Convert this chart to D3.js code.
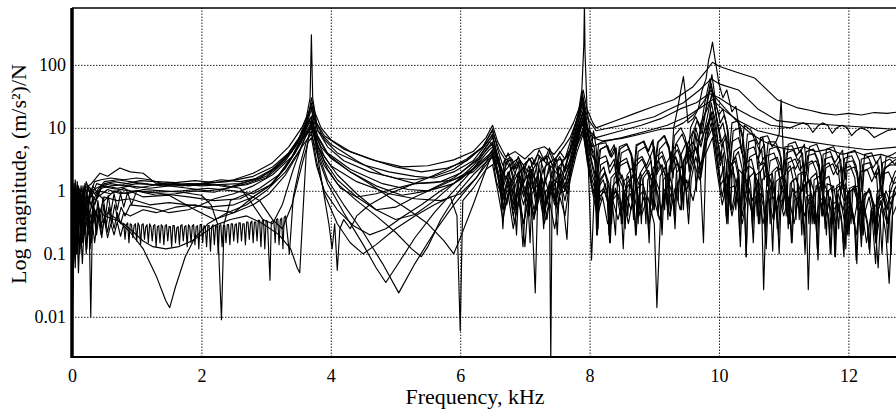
<!DOCTYPE html>
<html>
<head>
<meta charset="utf-8">
<script src="https://cdn.jsdelivr.net/npm/d3@7"></script>
<style>
  body { margin: 0; background: #fff; }
  svg { display: block; }
</style>
</head>
<body>
<div id="chart"></div>
<script>
// frequency in kHz, magnitude in (m/s^2)/N
var xTicks = [0, 2, 4, 6, 8, 10, 12];
var yTicks = [0.01, 0.1, 1, 10, 100];
var yTickLabels = ['0.01', '0.1', '1', '10', '100'];

var frf01 = [[0,0.002],[0.03,0.6],[0.06,0.15],[0.1,0.9],[0.14,0.35],[0.2,1.1],[0.3,1.3],[0.43,1.9],[0.55,1.7],[0.74,2.3],[0.9,2.0],[1.1,1.9],[1.3,1.3],[1.6,1.25],[2.0,1.3],[2.4,1.4],[2.8,1.7],[3.1,2.4],[3.35,4],[3.55,8],[3.66,16],[3.7,30],[3.75,18],[3.85,10],[4.0,6.5],[4.3,4.2],[4.7,3.0],[5.1,2.4],[5.5,2.5],[5.9,3.1],[6.2,4.2],[6.4,7],[6.5,11],[6.58,6],[6.7,3.5],[6.85,4.2],[7.0,3.2],[7.15,4.5],[7.3,5],[7.45,3.8],[7.6,6],[7.75,12],[7.85,22],[7.9,40],[7.96,20],[8.05,12],[8.1,10],[8.4,13],[8.7,17],[9.0,22],[9.3,28],[9.6,45],[9.8,80],[9.9,110],[10.0,95],[10.25,78],[10.55,62],[10.9,28],[11.2,21],[11.4,19],[11.6,17],[11.8,16],[12.0,17],[12.2,16],[12.4,17.5],[12.6,17],[12.8,18]];

var frf02 = [[0,0.05],[0.04,0.5],[0.08,0.2],[0.12,1.0],[0.18,0.4],[0.25,1.2],[0.35,0.9],[0.5,1.4],[0.7,1.5],[1.0,1.35],[1.4,1.2],[1.8,1.3],[2.2,1.25],[2.6,1.3],[2.9,1.6],[3.2,2.6],[3.45,5],[3.62,12],[3.7,25],[3.78,12],[3.9,7.5],[4.2,4.6],[4.6,3.2],[5.0,2.4],[5.4,2.0],[5.8,2.3],[6.1,3.0],[6.35,5],[6.5,9],[6.6,4.5],[6.75,2.5],[6.9,3.3],[7.05,2.0],[7.2,3.8],[7.35,2.6],[7.5,3.5],[7.7,7],[7.85,18],[7.9,30],[7.97,14],[8.1,9],[8.5,11],[9.0,15],[9.2,19],[9.45,25],[9.7,40],[9.88,60],[10.0,50],[10.3,40],[10.6,20],[10.9,13],[11.2,12],[11.5,11.5],[11.8,11],[12.1,10.5],[12.4,10],[12.8,9.3]];

var frf03 = [[0,0.1],[0.05,1.2],[0.09,0.3],[0.13,0.8],[0.2,0.5],[0.3,1.0],[0.45,1.2],[0.6,1.1],[0.9,1.0],[1.3,0.95],[1.7,1.0],[2.1,1.1],[2.5,1.0],[2.8,0.9],[3.1,1.3],[3.4,3.5],[3.6,9],[3.7,20],[3.8,9],[4.0,5.5],[4.4,3.0],[4.8,1.8],[5.3,1.3],[5.7,1.4],[6.0,1.9],[6.3,3.5],[6.5,7],[6.6,3],[6.7,1.5],[6.8,2.4],[6.95,1.2],[7.1,2.2],[7.25,0.9],[7.4,2.5],[7.55,1.6],[7.7,4],[7.85,15],[7.9,22],[7.95,10],[8.1,7],[8.4,8.5],[8.8,11],[9.1,14],[9.4,20],[9.65,25],[9.85,35],[10.0,30],[10.2,22],[10.5,15],[10.8,11],[11.1,10],[11.2,11],[11.3,12],[11.38,11],[11.45,8.5],[11.52,10.5],[11.6,12],[11.68,11],[11.75,8.2],[11.82,10],[11.9,11],[11.98,10],[12.05,7.5],[12.12,9],[12.2,10],[12.3,9],[12.4,7],[12.5,8],[12.6,9],[12.7,9.5],[12.8,10]];

var frf04 = [[0,0.03],[0.04,0.8],[0.08,0.15],[0.12,0.6],[0.17,0.25],[0.22,0.9],[0.3,0.6],[0.4,1.0],[0.6,0.9],[0.8,1.1],[1.1,0.8],[1.5,0.85],[1.9,0.5],[2.2,0.35],[2.5,0.45],[2.8,0.8],[3.05,1.2],[3.3,2.3],[3.55,6],[3.68,14],[3.72,16],[3.8,7],[3.95,3.8],[4.3,2.0],[4.7,1.2],[5.1,0.85],[5.5,1.0],[5.9,1.6],[6.25,3],[6.45,6],[6.52,5],[6.65,2],[6.8,1.2],[6.9,2.0],[7.05,0.8],[7.2,1.8],[7.3,0.6],[7.45,1.5],[7.6,1.1],[7.75,3],[7.88,12],[7.93,9],[8.05,5],[8.2,6],[8.5,7],[8.9,9],[9.2,11],[9.5,15],[9.75,22],[9.9,28],[10.05,20],[10.3,13],[10.6,9],[11.0,7.2],[11.4,6],[11.8,5.2],[12.3,4.5],[12.8,5]];

var frf05 = [[0,0.2],[0.03,1.0],[0.07,0.1],[0.1,0.7],[0.15,0.2],[0.19,0.9],[0.25,0.3],[0.32,0.8],[0.36,0.3],[0.4,0.7],[0.44,0.35],[0.48,0.8],[0.52,0.4],[0.56,0.85],[0.6,0.45],[0.65,0.9],[0.7,0.5],[0.75,0.9],[0.8,0.55],[0.86,0.95],[0.92,0.6],[1.0,1.0],[1.4,0.9],[1.8,0.8],[2.2,0.7],[2.6,0.75],[2.9,1.1],[3.2,1.8],[3.45,4],[3.62,10],[3.7,13],[3.78,8],[3.95,4],[4.3,2.2],[4.8,1.3],[5.2,1.05],[5.5,1.0],[5.9,1.3],[6.2,2.2],[6.4,4.5],[6.5,6],[6.58,3],[6.65,1.5],[6.72,0.6],[6.8,1.6],[6.88,0.5],[6.95,1.4],[7.02,0.7],[7.1,1.8],[7.18,0.5],[7.26,1.2],[7.34,0.35],[7.42,1.4],[7.5,0.8],[7.6,1.9],[7.7,3],[7.82,8],[7.9,15],[7.97,6],[8.05,2.5],[8.1,1.6],[8.13,0.5],[8.16,1.5],[8.24,2.0],[8.3,1.3],[8.33,0.35],[8.36,1.2],[8.45,1.6],[8.52,1.1],[8.55,0.25],[8.58,1.3],[8.67,1.8],[8.73,1.4],[8.76,0.4],[8.79,1.6],[8.88,2.2],[8.95,1.5],[8.98,0.5],[9.01,1.9],[9.1,2.6],[9.17,1.8],[9.2,0.6],[9.23,2.4],[9.33,3.5],[9.4,2.2],[9.43,0.8],[9.46,3.0],[9.55,4.5],[9.62,3],[9.65,1.0],[9.68,5],[9.78,9],[9.9,18],[9.98,6],[10.05,3],[10.09,0.8],[10.13,3.2],[10.22,2.4],[10.26,0.5],[10.3,2.2],[10.38,1.8],[10.42,0.09],[10.46,1.6],[10.55,2.0],[10.6,1.3],[10.63,0.3],[10.67,1.5],[10.76,1.9],[10.82,1.2],[10.85,0.35],[10.88,1.4],[10.97,1.7],[11.04,1.1],[11.07,0.25],[11.1,1.3],[11.19,1.6],[11.26,1.0],[11.29,0.3],[11.32,1.2],[11.41,1.5],[11.48,0.9],[11.51,0.2],[11.54,1.1],[11.63,1.3],[11.7,0.8],[11.73,0.25],[11.76,1.0],[11.86,1.2],[11.93,0.7],[11.96,0.12],[11.99,0.9],[12.08,1.1],[12.16,0.6],[12.19,0.2],[12.22,0.8],[12.32,1.0],[12.4,0.6],[12.43,0.15],[12.46,0.7],[12.56,0.9],[12.63,0.5],[12.66,0.1],[12.69,0.8],[12.8,1.2]];

var frf06 = [[0,0.01],[0.02,0.4],[0.05,1.3],[0.08,0.2],[0.11,1.0],[0.14,0.3],[0.18,0.7],[0.23,0.4],[0.28,1.1],[0.35,0.6],[0.45,1.1],[0.6,1.2],[0.8,1.25],[1.0,1.1],[1.3,1.25],[1.6,1.3],[2.0,1.2],[2.3,1.25],[2.6,1.1],[2.75,0.7],[2.95,0.35],[3.1,0.3],[3.25,0.6],[3.42,2.2],[3.6,7],[3.7,10],[3.8,5],[4.0,2.5],[4.4,1.4],[4.9,0.9],[5.3,0.75],[5.7,0.7],[6.0,0.9],[6.25,1.6],[6.45,3.5],[6.5,4],[6.56,2.6],[6.6,3.4],[6.64,1.2],[6.68,3.0],[6.78,3.4],[6.84,2.2],[6.9,3.0],[6.94,0.9],[6.98,2.6],[7.08,3.2],[7.14,2.0],[7.18,0.7],[7.22,2.8],[7.32,3.6],[7.38,2.4],[7.42,1.0],[7.46,2.9],[7.56,3.2],[7.62,2.2],[7.66,3.5],[7.76,6],[7.86,14],[7.91,20],[7.98,8],[8.06,3.5],[8.11,2.4],[8.14,0.9],[8.17,2.6],[8.27,3.0],[8.31,1.9],[8.39,2.8],[8.44,1.2],[8.47,2.5],[8.58,2.9],[8.63,2.0],[8.66,0.7],[8.7,2.4],[8.81,3.2],[8.88,2.2],[8.95,3.0],[8.99,1.1],[9.03,2.8],[9.12,3.6],[9.18,2.4],[9.22,1.0],[9.26,3.2],[9.36,4.5],[9.42,3.0],[9.46,1.2],[9.5,4.5],[9.6,6],[9.66,4],[9.72,12],[9.82,20],[9.9,35],[9.96,15],[10.04,6],[10.1,8],[10.16,4.5],[10.19,1.6],[10.23,4.2],[10.33,5],[10.39,3.2],[10.43,1.0],[10.47,3.4],[10.57,3.9],[10.64,2.6],[10.71,3.6],[10.75,1.2],[10.79,3.0],[10.9,3.4],[10.97,2.2],[11.03,0.8],[11.07,2.8],[11.18,3.2],[11.25,2.1],[11.31,2.8],[11.35,0.9],[11.39,2.6],[11.5,3.0],[11.57,1.9],[11.61,0.6],[11.65,2.3],[11.76,2.7],[11.83,1.8],[11.9,2.4],[11.94,0.7],[11.98,2.1],[12.09,2.4],[12.16,1.5],[12.2,0.5],[12.24,2.0],[12.35,2.4],[12.42,1.6],[12.48,2.2],[12.52,0.8],[12.56,2.2],[12.66,2.8],[12.8,3.5]];

var frf07 = [[0,0.005],[0.02,0.3],[0.05,0.08],[0.08,0.6],[0.12,0.1],[0.16,0.5],[0.2,0.2],[0.26,0.7],[0.29,0.01],[0.32,0.6],[0.4,0.35],[0.5,0.8],[0.7,0.7],[0.9,0.75],[1.2,0.6],[1.5,0.65],[1.8,0.6],[2.1,0.55],[2.5,0.6],[2.8,0.8],[3.1,1.3],[3.35,2.8],[3.58,7],[3.7,11],[3.8,4],[3.95,1.5],[4.2,0.6],[4.5,0.22],[4.8,0.07],[5.05,0.024],[5.3,0.07],[5.6,0.22],[5.9,0.6],[6.2,1.4],[6.45,3],[6.5,3.5],[6.6,1.5],[6.68,0.5],[6.76,1.1],[6.84,0.3],[6.92,0.9],[7.0,0.13],[7.06,0.8],[7.14,0.4],[7.22,1.2],[7.3,0.5],[7.38,1.0],[7.4,0.002],[7.42,0.9],[7.5,0.6],[7.6,1.5],[7.72,3],[7.85,9],[7.9,14],[7.97,5],[8.03,0.08],[8.08,1.5],[8.16,0.7],[8.24,1.3],[8.32,0.5],[8.4,1.1],[8.48,0.4],[8.56,0.9],[8.64,0.5],[8.72,1.2],[8.8,0.4],[8.9,0.8],[9.0,0.3],[9.04,0.014],[9.1,0.5],[9.2,1.2],[9.3,0.6],[9.4,1.8],[9.5,1.0],[9.6,3],[9.7,1.5],[9.8,6],[9.9,10],[9.97,3],[10.05,0.8],[10.12,2],[10.2,0.5],[10.28,1.6],[10.36,0.4],[10.44,1.3],[10.52,0.7],[10.6,1.5],[10.66,0.5],[10.69,0.027],[10.73,0.6],[10.82,1.4],[10.9,0.5],[10.98,1.2],[11.06,0.45],[11.14,1.1],[11.22,0.6],[11.3,1.3],[11.35,0.5],[11.38,0.027],[11.42,0.6],[11.52,1.2],[11.6,0.4],[11.68,1.0],[11.76,0.3],[11.84,0.9],[11.92,0.5],[12.0,1.0],[12.08,0.3],[12.16,0.9],[12.24,0.4],[12.32,0.8],[12.4,0.3],[12.5,0.7],[12.58,0.2],[12.63,0.034],[12.68,0.4],[12.8,0.8]];

var frf08 = [[0,0.02],[0.03,0.7],[0.06,0.2],[0.1,0.5],[0.15,0.15],[0.2,0.45],[0.26,0.2],[0.35,0.5],[0.45,0.3],[0.55,0.45],[0.7,0.35],[0.9,0.22],[1.1,0.12],[1.3,0.045],[1.45,0.018],[1.51,0.014],[1.6,0.03],[1.75,0.09],[1.9,0.18],[2.1,0.3],[2.4,0.45],[2.7,0.6],[3.0,1.0],[3.3,2.0],[3.55,5],[3.7,8],[3.8,3.5],[3.95,1.3],[4.2,0.45],[4.5,0.14],[4.7,0.06],[4.85,0.035],[5.0,0.06],[5.3,0.18],[5.6,0.45],[5.9,1.0],[6.2,2.2],[6.45,4.5],[6.5,5],[6.6,2.5],[6.68,0.9],[6.76,2.0],[6.84,0.6],[6.92,1.7],[7.0,0.9],[7.08,2.2],[7.16,0.024],[7.2,1.0],[7.28,2.2],[7.36,1.0],[7.46,2.8],[7.56,1.2],[7.65,0.17],[7.7,2.5],[7.82,7],[7.9,12],[7.96,4],[8.03,1.6],[8.09,1.0],[8.12,0.3],[8.15,1.2],[8.21,1.5],[8.27,0.9],[8.3,0.2],[8.33,1.1],[8.4,0.2],[8.43,1.3],[8.5,1.8],[8.56,1.1],[8.59,0.4],[8.62,1.4],[8.7,1.9],[8.77,1.2],[8.8,0.3],[8.83,1.6],[8.91,2.1],[8.97,1.4],[9.0,0.5],[9.03,1.8],[9.12,2.6],[9.18,1.6],[9.21,0.35],[9.24,2.2],[9.33,3.4],[9.39,2.0],[9.42,0.5],[9.45,3.0],[9.54,5],[9.6,3],[9.64,8],[9.7,3],[9.76,0.15],[9.8,5],[9.88,25],[9.95,12],[10.02,3],[10.06,6],[10.12,2.5],[10.15,0.6],[10.18,2.6],[10.26,3.4],[10.31,1.8],[10.34,0.4],[10.38,2.0],[10.42,0.09],[10.46,2.5],[10.53,2.2],[10.58,1.2],[10.61,0.3],[10.64,2.0],[10.72,2.8],[10.78,1.6],[10.83,0.11],[10.87,2.0],[10.95,2.3],[11.01,1.3],[11.04,0.4],[11.07,2.0],[11.15,2.4],[11.21,1.4],[11.24,0.35],[11.27,1.8],[11.35,2.0],[11.41,1.1],[11.44,0.3],[11.47,1.5],[11.55,1.7],[11.61,0.9],[11.64,0.25],[11.67,1.3],[11.75,1.2],[11.8,0.09],[11.84,1.0],[11.92,1.3],[11.98,0.7],[12.01,0.2],[12.04,1.0],[12.12,1.1],[12.18,0.6],[12.21,0.2],[12.24,0.9],[12.33,1.0],[12.39,0.5],[12.42,0.15],[12.45,0.8],[12.54,0.9],[12.6,0.5],[12.64,0.9],[12.72,1.6],[12.8,1.9]];

var frf09 = [[0,0.03],[0.02,0.25],[0.05,0.06],[0.07,0.4],[0.1,0.05],[0.13,0.35],[0.16,0.07],[0.19,0.3],[0.22,0.1],[0.25,0.4],[0.28,0.12],[0.31,0.35],[0.35,0.15],[0.4,0.4],[0.45,0.2],[0.5,0.35],[0.55,0.18],[0.6,0.3],[0.65,0.2],[0.7,0.32],[0.75,0.19],
  [0.8,0.3],[0.82,0.17],[0.84,0.29],[0.86,0.31],[0.88,0.15],[0.9,0.3],[0.92,0.29],[0.94,0.18],[0.96,0.28],[0.98,0.3],[1.0,0.16],[1.02,0.31],[1.04,0.28],[1.06,0.14],[1.08,0.29],[1.1,0.3],[1.12,0.17],[1.14,0.27],[1.16,0.29],[1.18,0.15],[1.2,0.3],[1.22,0.27],[1.24,0.16],[1.26,0.28],[1.28,0.29],[1.3,0.13],[1.32,0.27],[1.34,0.28],[1.36,0.15],[1.38,0.29],[1.4,0.27],[1.42,0.14],[1.44,0.28],[1.46,0.29],[1.48,0.16],[1.5,0.27],[1.52,0.27],[1.54,0.13],[1.56,0.28],[1.58,0.28],[1.6,0.15],[1.62,0.26],[1.64,0.27],[1.66,0.14],[1.68,0.28],[1.7,0.29],[1.72,0.16],[1.74,0.27],[1.76,0.28],[1.78,0.13],[1.8,0.29],[1.82,0.27],[1.84,0.15],[1.86,0.28],[1.88,0.29],[1.9,0.14],[1.92,0.27],[1.94,0.28],[1.96,0.12],[1.98,0.29],[2.0,0.29],[2.02,0.15],[2.04,0.28],[2.06,0.27],[2.08,0.13],[2.1,0.28],[2.12,0.28],[2.14,0.11],[2.16,0.27],[2.18,0.29],[2.2,0.14],[2.22,0.28],[2.24,0.27],[2.26,0.1],[2.28,0.28],[2.3,0.29],[2.32,0.13],[2.34,0.28],[2.36,0.28],[2.38,0.15],[2.4,0.29],[2.42,0.29],[2.44,0.14],[2.46,0.3],[2.48,0.3],[2.5,0.16],[2.52,0.29],[2.54,0.3],[2.56,0.15],[2.58,0.31],[2.6,0.31],[2.62,0.16],[2.64,0.3],[2.66,0.3],[2.68,0.14],[2.7,0.32],[2.72,0.32],[2.74,0.17],[2.76,0.31],[2.78,0.33],[2.8,0.15],[2.82,0.32],[2.84,0.32],[2.86,0.16],[2.88,0.34],[2.9,0.34],[2.92,0.13],[2.94,0.33],[2.96,0.35],[2.98,0.12],[3.0,0.34],[3.02,0.33],[3.06,0.038],[3.08,0.32],[3.12,0.34],[3.14,0.15],[3.16,0.35],[3.18,0.36],[3.2,0.14],[3.22,0.35],[3.24,0.37],[3.26,0.12],[3.28,0.38],[3.3,0.4],
  [3.36,0.1],[3.42,0.8],[3.52,2.5],[3.62,6],[3.7,9],[3.78,3],[3.9,0.9],[4.1,0.3],[4.3,0.15],[4.5,0.1],[4.7,0.14],[5.0,0.25],[5.3,0.4],[5.6,0.6],[5.85,0.8],[5.95,0.4],[6.0,0.006],[6.04,0.7],[6.2,1.1],[6.4,2.2],[6.5,2.6],[6.58,1.0],[6.66,0.35],[6.74,0.9],[6.82,0.25],[6.9,0.7],[6.98,0.3],[7.06,0.8],[7.14,0.35],[7.22,0.9],[7.3,0.3],[7.38,0.7],[7.46,0.25],[7.54,0.8],[7.62,0.4],[7.7,1.5],[7.8,4],[7.9,8],[7.97,3],[8.05,0.9],[8.12,0.4],[8.2,0.8],[8.28,0.3],[8.36,0.7],[8.44,0.35],[8.52,0.8],[8.6,0.3],[8.68,0.9],[8.76,0.4],[8.84,0.8],[8.92,0.3],[9.0,0.7],[9.08,0.35],[9.16,0.9],[9.24,0.4],[9.32,1.1],[9.4,0.5],[9.5,1.5],[9.6,0.7],[9.7,2.5],[9.8,4],[9.9,7],[9.97,2],[10.05,0.6],[10.12,1.3],[10.2,0.4],[10.28,1.0],[10.36,0.3],[10.44,0.9],[10.52,0.4],[10.6,1.0],[10.68,0.3],[10.76,0.8],[10.84,0.35],[10.92,0.9],[11.0,0.4],[11.08,0.8],[11.16,0.3],[11.24,0.9],[11.32,0.4],[11.4,0.8],[11.48,0.3],[11.56,0.7],[11.64,0.35],[11.72,0.8],[11.8,0.3],[11.88,0.7],[11.96,0.25],[12.04,0.6],[12.12,0.2],[12.2,0.6],[12.28,0.15],[12.36,0.5],[12.44,0.2],[12.52,0.6],[12.6,0.3],[12.7,0.8],[12.8,1.2]];

var frf10 = [[0,0.004],[0.02,0.9],[0.05,0.3],[0.08,1.2],[0.11,0.4],[0.15,0.9],[0.2,0.35],[0.25,0.8],[0.32,0.5],[0.4,0.9],[0.5,0.7],[0.65,1.0],[0.85,0.9],[1.1,1.05],[1.4,1.0],[1.7,0.95],[2.0,0.85],[2.15,0.6],[2.25,0.3],[2.31,0.009],[2.35,0.3],[2.45,0.7],[2.7,0.9],[2.9,0.7],[3.1,0.35],[3.25,0.25],[3.4,0.6],[3.55,2.5],[3.65,6],[3.7,7],[3.78,2.5],[3.9,1.0],[4.1,0.5],[4.35,0.28],[4.6,0.2],[4.85,0.25],[5.1,0.38],[5.4,0.6],[5.7,1.0],[6.0,1.5],[6.3,2.8],[6.5,4.2],[6.58,2.0],[6.66,0.8],[6.74,1.6],[6.82,0.6],[6.9,1.3],[6.97,0.13],[7.02,1.0],[7.1,2.0],[7.18,0.7],[7.26,1.6],[7.34,0.6],[7.42,1.4],[7.5,0.5],[7.58,1.6],[7.66,0.9],[7.74,3],[7.84,10],[7.9,13],[7.96,5],[8.04,1.8],[8.1,1.2],[8.13,0.25],[8.16,1.4],[8.24,1.9],[8.3,1.1],[8.34,0.3],[8.38,1.6],[8.46,2.1],[8.52,1.3],[8.55,0.45],[8.58,1.8],[8.66,2.3],[8.72,1.4],[8.75,0.3],[8.78,1.9],[8.86,2.6],[8.92,1.6],[8.95,0.6],[8.98,2.3],[9.07,3.0],[9.13,1.8],[9.16,0.5],[9.19,2.8],[9.28,4.0],[9.34,2.3],[9.37,0.7],[9.4,3.5],[9.5,6],[9.56,3],[9.64,10],[9.72,5],[9.82,15],[9.9,40],[9.96,14],[10.04,5],[10.1,7],[10.15,2.5],[10.18,0.5],[10.21,3],[10.3,4.2],[10.36,2.2],[10.39,0.6],[10.42,2.8],[10.5,3.2],[10.56,1.8],[10.59,0.4],[10.62,2.5],[10.7,2.8],[10.76,1.5],[10.79,0.3],[10.82,2.0],[10.9,2.4],[10.96,1.3],[10.99,0.5],[11.02,2.0],[11.1,2.5],[11.16,1.3],[11.19,0.35],[11.22,1.8],[11.3,2.0],[11.36,1.1],[11.39,0.3],[11.42,1.6],[11.5,1.9],[11.56,1.0],[11.59,0.4],[11.62,1.5],[11.7,1.7],[11.76,0.8],[11.79,0.09],[11.82,1.2],[11.9,1.4],[11.96,0.7],[11.99,0.2],[12.02,1.1],[12.1,1.2],[12.16,0.6],[12.2,0.13],[12.24,0.7],[12.32,1.1],[12.38,0.6],[12.41,0.2],[12.44,0.9],[12.52,1.2],[12.58,0.5],[12.61,0.15],[12.64,1.2],[12.72,2.0],[12.8,2.4]];

var frf11 = [[0,0.06],[0.03,1.1],[0.06,0.25],[0.09,0.8],[0.13,0.3],[0.17,1.2],[0.22,0.5],[0.28,1.0],[0.36,0.7],[0.45,1.2],[0.6,1.3],[0.8,1.2],[1.0,1.3],[1.25,1.25],[1.5,1.35],[1.8,1.2],[2.1,1.3],[2.4,1.15],[2.7,1.25],[3.0,1.6],[3.3,3],[3.5,6],[3.62,11],[3.7,15],[3.78,7],[3.9,3.5],[4.1,1.8],[4.4,0.9],[4.7,0.5],[5.0,0.35],[5.3,0.42],[5.6,0.7],[5.9,1.3],[6.2,2.5],[6.45,5],[6.5,5.5],[6.56,3.0],[6.62,2.2],[6.65,0.6],[6.68,2.0],[6.77,2.6],[6.83,1.6],[6.86,0.5],[6.89,1.8],[6.98,2.4],[7.04,1.6],[7.07,0.4],[7.1,2.0],[7.19,2.8],[7.25,1.8],[7.28,0.5],[7.31,2.4],[7.4,3.0],[7.46,2.0],[7.49,0.6],[7.52,2.4],[7.6,3.0],[7.72,5],[7.82,12],[7.89,25],[7.95,10],[8.02,4],[8.08,3.0],[8.11,1.0],[8.15,3.2],[8.25,3.6],[8.31,2.4],[8.38,3.2],[8.42,1.3],[8.46,2.8],[8.57,3.3],[8.63,2.2],[8.67,0.8],[8.71,3.0],[8.81,3.5],[8.88,2.5],[8.94,3.6],[8.98,1.4],[9.02,3.4],[9.12,4.2],[9.18,2.8],[9.22,1.2],[9.26,4.0],[9.35,5.5],[9.42,3.5],[9.46,1.5],[9.5,5],[9.6,9],[9.68,6],[9.8,20],[9.88,50],[9.94,20],[10.0,9],[10.06,12],[10.12,6],[10.16,2.0],[10.2,6],[10.3,7],[10.36,4.2],[10.4,1.4],[10.44,4.5],[10.54,5],[10.6,3.2],[10.66,4.5],[10.7,1.5],[10.74,3.6],[10.85,4.0],[10.92,2.5],[10.96,0.9],[11.0,3.0],[11.11,3.4],[11.18,2.2],[11.25,3.1],[11.29,1.0],[11.33,2.6],[11.44,3.0],[11.51,2.0],[11.55,0.7],[11.59,2.4],[11.7,2.8],[11.77,1.8],[11.84,2.5],[11.88,0.9],[11.92,2.2],[12.03,2.5],[12.1,1.6],[12.14,0.5],[12.18,2.0],[12.29,2.2],[12.36,1.4],[12.43,2.0],[12.47,0.6],[12.51,1.8],[12.62,2.0],[12.7,1.3],[12.8,1.5]];

var frf12 = [[0,0.1],[0.03,0.35],[0.06,0.9],[0.09,0.15],[0.12,0.7],[0.16,0.2],[0.21,0.6],[0.27,0.25],[0.33,0.6],[0.37,0.22],[0.41,0.55],[0.45,0.25],[0.49,0.6],[0.53,0.28],[0.57,0.55],[0.61,0.3],[0.66,0.6],[0.71,0.35],[0.76,0.55],[0.82,0.4],[0.9,0.6],[1.2,0.55],[1.5,0.45],[1.8,0.5],[2.0,0.6],[2.2,0.75],[2.5,0.9],[2.8,1.2],[3.1,1.8],[3.4,3.5],[3.6,8],[3.7,12],[3.78,6],[3.9,3.0],[4.1,1.5],[4.4,0.8],[4.7,0.5],[5.0,0.55],[5.3,0.8],[5.6,1.1],[5.9,1.5],[6.2,2.2],[6.45,3.5],[6.5,3.8],[6.58,1.8],[6.66,0.7],[6.74,1.5],[6.82,0.5],[6.9,1.2],[6.98,0.6],[7.06,1.4],[7.14,0.5],[7.22,1.1],[7.3,0.4],[7.38,1.2],[7.46,0.6],[7.54,1.5],[7.62,0.7],[7.72,2.5],[7.82,6],[7.9,10],[7.96,4],[8.04,1.2],[8.09,0.8],[8.11,0.2],[8.14,0.9],[8.22,1.1],[8.28,0.7],[8.31,0.15],[8.34,0.8],[8.42,1.0],[8.48,0.7],[8.51,0.3],[8.54,1.0],[8.62,1.3],[8.68,0.8],[8.71,0.2],[8.74,1.1],[8.82,1.3],[8.88,0.8],[8.91,0.25],[8.94,1.2],[9.02,1.5],[9.08,1.0],[9.11,0.3],[9.14,1.5],[9.22,1.9],[9.28,1.2],[9.31,0.4],[9.34,1.9],[9.42,2.5],[9.48,1.5],[9.52,0.5],[9.56,2.5],[9.64,5],[9.72,2],[9.8,8],[9.88,15],[9.95,6],[10.02,1.5],[10.07,2.4],[10.11,0.4],[10.15,1.8],[10.23,1.9],[10.29,1.0],[10.32,0.2],[10.35,1.2],[10.43,1.5],[10.49,0.8],[10.52,0.25],[10.55,1.1],[10.63,1.3],[10.69,0.7],[10.72,0.15],[10.75,1.0],[10.83,1.2],[10.89,0.6],[10.92,0.2],[10.95,0.9],[11.03,1.1],[11.09,0.6],[11.12,0.15],[11.15,0.9],[11.23,1.0],[11.29,0.5],[11.32,0.2],[11.35,0.8],[11.43,0.9],[11.49,0.5],[11.52,0.12],[11.55,0.7],[11.63,0.8],[11.69,0.4],[11.72,0.1],[11.75,0.6],[11.83,0.7],[11.89,0.4],[11.92,0.15],[11.95,0.6],[12.03,0.7],[12.09,0.35],[12.12,0.08],[12.15,0.5],[12.23,0.6],[12.29,0.3],[12.32,0.12],[12.35,0.5],[12.43,0.6],[12.49,0.35],[12.52,0.1],[12.55,0.5],[12.66,0.8],[12.8,1.0]];

var frf13 = [[0,0.15],[0.02,0.5],[0.05,1.5],[0.08,0.4],[0.11,1.1],[0.15,0.5],[0.2,1.3],[0.26,0.6],[0.32,1.2],[0.4,0.9],[0.5,1.3],[0.65,1.4],[0.85,1.3],[1.05,1.45],[1.3,1.4],[1.6,1.35],[1.9,1.45],[2.2,1.35],[2.5,1.5],[2.8,1.9],[3.1,2.8],[3.35,5],[3.55,10],[3.66,18],[3.7,22],[3.75,8],[3.82,2.5],[3.9,0.8],[3.97,0.3],[4.02,0.12],[4.06,0.3],[4.1,0.055],[4.14,0.25],[4.2,0.35],[4.3,0.25],[4.4,0.4],[4.6,0.6],[4.9,0.9],[5.2,1.2],[5.5,1.6],[5.8,2.2],[6.1,3.2],[6.35,5],[6.5,7.5],[6.58,3.5],[6.66,1.8],[6.74,3.2],[6.82,1.5],[6.9,2.8],[6.98,1.3],[7.06,2.5],[7.14,1.6],[7.22,3.6],[7.3,2.0],[7.38,4.2],[7.46,2.5],[7.54,3.5],[7.62,2.0],[7.72,6],[7.82,16],[7.89,30],[7.95,12],[8.02,4],[8.06,9],[8.1,5],[8.13,2.0],[8.17,4.6],[8.28,5.2],[8.34,3.4],[8.41,4.8],[8.45,1.8],[8.49,4.0],[8.6,4.6],[8.67,3.2],[8.71,1.2],[8.75,4.2],[8.86,5],[8.93,3.4],[9.0,5],[9.04,1.8],[9.08,4.6],[9.18,6],[9.25,4],[9.29,1.6],[9.33,5.5],[9.43,8],[9.5,5],[9.54,2.0],[9.58,7],[9.66,13],[9.74,8],[9.82,28],[9.89,70],[9.95,25],[10.02,12],[10.08,16],[10.14,9],[10.18,3],[10.22,9],[10.32,10],[10.38,6],[10.42,2.0],[10.46,6],[10.56,6.5],[10.63,4.2],[10.7,5.5],[10.74,1.8],[10.78,4.6],[10.89,5],[10.96,3.4],[11.0,1.2],[11.04,4.0],[11.15,4.4],[11.22,3.0],[11.29,4.0],[11.33,1.4],[11.37,3.6],[11.48,3.9],[11.55,2.6],[11.59,1.0],[11.63,3.2],[11.74,3.5],[11.81,2.4],[11.88,3.2],[11.92,1.1],[11.96,2.8],[12.07,3.0],[12.14,2.0],[12.18,0.7],[12.22,2.6],[12.33,2.8],[12.4,1.8],[12.47,2.5],[12.51,0.9],[12.55,2.3],[12.66,2.6],[12.8,2.5]];

var frf14 = [[0,0.0025],[0.02,0.4],[0.05,0.1],[0.08,0.5],[0.12,0.12],[0.16,0.6],[0.2,0.25],[0.26,0.5],[0.32,0.3],[0.4,0.55],[0.5,0.4],[0.65,0.35],[0.8,0.3],[0.95,0.22],[1.1,0.16],[1.25,0.13],[1.45,0.12],[1.65,0.13],[1.85,0.16],[2.0,0.2],[2.2,0.28],[2.45,0.35],[2.7,0.4],[2.95,0.3],[3.2,0.2],[3.38,0.12],[3.48,0.06],[3.52,0.05],[3.56,0.3],[3.62,4],[3.7,14],[3.76,8],[3.85,5],[4.0,3.3],[4.3,2.0],[4.6,1.3],[4.9,0.8],[5.2,0.5],[5.5,0.3],[5.75,0.16],[5.9,0.1],[6.02,0.2],[6.2,0.6],[6.4,2.2],[6.5,4],[6.58,1.7],[6.66,0.5],[6.74,1.3],[6.82,0.4],[6.9,1.0],[6.98,0.3],[7.06,0.9],[7.14,0.4],[7.22,1.3],[7.3,0.5],[7.38,1.4],[7.46,0.7],[7.54,1.9],[7.62,1.0],[7.72,3.5],[7.82,9],[7.9,18],[7.96,6],[8.04,2.5],[8.08,1.6],[8.11,0.5],[8.14,1.8],[8.22,2.4],[8.27,1.4],[8.3,0.4],[8.33,1.6],[8.41,2.0],[8.46,1.2],[8.49,0.3],[8.52,1.4],[8.6,1.7],[8.65,1.0],[8.68,0.35],[8.71,1.3],[8.79,1.9],[8.84,1.1],[8.87,0.3],[8.9,1.5],[8.98,2.0],[9.03,1.2],[9.06,0.4],[9.09,1.7],[9.17,2.4],[9.22,1.4],[9.25,0.4],[9.28,2.0],[9.36,2.8],[9.42,1.6],[9.45,0.5],[9.48,2.6],[9.56,3.5],[9.64,5],[9.72,2.5],[9.8,9],[9.88,18],[9.95,7],[10.02,2.5],[10.07,4],[10.11,1.2],[10.14,0.3],[10.17,2.4],[10.25,3.0],[10.3,1.6],[10.33,0.4],[10.36,2.0],[10.44,2.4],[10.49,1.2],[10.52,0.35],[10.55,1.7],[10.63,2.0],[10.68,1.0],[10.71,0.3],[10.74,1.6],[10.82,1.9],[10.87,0.9],[10.9,0.25],[10.93,1.4],[11.01,1.8],[11.06,0.9],[11.09,0.3],[11.12,1.4],[11.2,1.6],[11.25,0.8],[11.28,0.2],[11.31,1.2],[11.39,1.5],[11.44,0.7],[11.47,0.3],[11.5,1.2],[11.58,1.4],[11.63,0.7],[11.66,0.2],[11.69,1.0],[11.77,1.2],[11.82,0.6],[11.85,0.25],[11.88,1.0],[11.96,1.3],[12.01,0.7],[12.04,0.3],[12.07,1.1],[12.15,1.2],[12.2,0.6],[12.23,0.2],[12.26,0.9],[12.34,1.0],[12.4,0.5],[12.46,0.06],[12.5,0.5],[12.58,1.0],[12.66,0.6],[12.72,1.1],[12.8,1.3]];

var frf15 = [[0,0.08],[0.03,1.3],[0.06,0.5],[0.09,1.0],[0.12,0.3],[0.15,0.8],[0.19,0.4],[0.24,1.1],[0.3,0.8],[0.38,1.3],[0.5,1.2],[0.7,1.1],[0.9,1.2],[1.2,1.1],[1.5,1.2],[1.8,1.1],[2.1,1.0],[2.4,1.1],[2.7,1.3],[3.0,1.7],[3.3,3.2],[3.5,6.5],[3.62,14],[3.68,30],[3.7,300],[3.72,30],[3.78,12],[3.9,6.5],[4.1,4],[4.5,2.6],[4.9,2.0],[5.3,1.7],[5.6,1.6],[5.9,2.0],[6.2,3],[6.4,5.5],[6.5,8],[6.56,4],[6.62,2.6],[6.66,1.0],[6.7,2.8],[6.8,3.2],[6.87,2.2],[6.93,3.0],[6.97,1.2],[7.01,2.8],[7.11,3.4],[7.18,2.4],[7.22,0.9],[7.26,3.0],[7.36,3.6],[7.43,2.5],[7.49,3.2],[7.53,1.1],[7.57,3.0],[7.64,3.4],[7.72,5],[7.82,14],[7.89,35],[7.95,14],[8.02,5],[8.07,4],[8.11,1.6],[8.15,4.4],[8.26,5.2],[8.32,3.5],[8.39,5.0],[8.43,2.0],[8.47,4.6],[8.58,5.5],[8.65,3.8],[8.69,1.5],[8.73,5.2],[8.84,6.2],[8.91,4.2],[8.98,6.5],[9.02,2.4],[9.06,6],[9.16,7.5],[9.23,5],[9.27,2.0],[9.31,7.5],[9.41,10],[9.48,7],[9.52,2.8],[9.56,10],[9.64,15],[9.72,10],[9.78,25],[9.86,60],[9.92,30],[10.0,16],[10.06,20],[10.12,11],[10.16,4],[10.2,12],[10.3,13],[10.36,8],[10.4,2.8],[10.44,8],[10.54,8],[10.61,5.5],[10.68,7],[10.72,2.4],[10.76,6],[10.87,6],[10.94,4.2],[10.98,1.6],[11.02,5],[11.13,5.2],[11.2,3.6],[11.27,4.6],[11.31,1.7],[11.35,4.2],[11.46,4.6],[11.53,3.1],[11.57,1.2],[11.61,3.8],[11.72,4.2],[11.79,2.8],[11.86,3.6],[11.9,1.3],[11.94,3.3],[12.05,3.6],[12.12,2.5],[12.16,0.9],[12.2,3.2],[12.31,3.4],[12.38,2.3],[12.45,3.0],[12.49,1.1],[12.53,2.8],[12.64,3.2],[12.72,2.6],[12.8,4]];

var frf16 = [[0,0.002],[0.02,1.0],[0.05,0.3],[0.08,1.4],[0.11,0.6],[0.14,1.2],[0.18,0.5],[0.22,1.4],[0.28,0.9],[0.35,1.4],[0.45,1.5],[0.6,1.6],[0.8,1.5],[1.0,1.6],[1.2,1.5],[1.4,1.3],[1.7,1.2],[2.0,1.3],[2.3,1.5],[2.6,1.4],[2.9,1.6],[3.15,2.3],[3.4,4.2],[3.58,9],[3.68,20],[3.72,20],[3.8,9],[3.95,5],[4.2,3.0],[4.6,2.0],[5.0,1.6],[5.3,1.5],[5.6,1.7],[5.9,2.2],[6.15,3.3],[6.35,5],[6.5,9.5],[6.58,4.5],[6.66,2.5],[6.74,4.0],[6.82,2.2],[6.9,3.5],[6.98,2.0],[7.06,3.3],[7.14,2.6],[7.22,4.5],[7.3,3.0],[7.38,4.8],[7.46,3.0],[7.54,4.2],[7.62,3.2],[7.72,7],[7.82,16],[7.88,40],[7.91,200],[7.92,900],[7.93,150],[7.96,20],[8.02,7],[8.07,5],[8.1,2.5],[8.14,5.5],[8.25,5.8],[8.31,4.0],[8.38,5.4],[8.42,2.2],[8.46,5.0],[8.57,5.6],[8.64,3.8],[8.68,1.6],[8.72,5.4],[8.83,6.0],[8.9,4.2],[8.97,6.2],[9.01,2.6],[9.05,5.8],[9.15,7.5],[9.22,5],[9.26,2.4],[9.3,10],[9.36,20],[9.42,45],[9.45,65],[9.48,35],[9.52,12],[9.6,14],[9.68,20],[9.74,40],[9.8,60],[9.84,120],[9.87,160],[9.9,230],[9.93,140],[9.96,90],[10.0,50],[10.06,30],[10.12,40],[10.2,18],[10.26,22],[10.31,10],[10.35,4],[10.39,11],[10.5,9],[10.56,6],[10.6,2.2],[10.64,7],[10.75,7.5],[10.82,5],[10.88,6],[10.93,8],[10.96,28],[10.99,5],[11.03,1.8],[11.07,5.5],[11.18,6],[11.25,4],[11.32,5.5],[11.36,2.0],[11.4,5],[11.51,5.5],[11.58,3.6],[11.62,1.3],[11.66,4.6],[11.77,5],[11.84,3.4],[11.91,4.4],[11.95,1.5],[11.99,4.0],[12.1,4.4],[12.17,3.0],[12.21,1.0],[12.25,3.8],[12.36,4.0],[12.43,2.7],[12.5,3.6],[12.54,1.3],[12.58,3.4],[12.69,3.8],[12.8,4.5]];

var frf17 = [[0,0.01],[0.03,0.2],[0.06,0.6],[0.09,0.1],[0.12,0.5],[0.16,0.15],[0.2,0.4],[0.23,0.12],[0.26,0.45],[0.3,0.15],[0.34,0.5],[0.38,0.2],[0.42,0.45],[0.46,0.18],[0.5,0.4],[0.55,0.22],[0.6,0.45],[0.65,0.25],[0.7,0.45],[0.75,0.3],[0.8,0.45],[0.9,0.4],[1.1,0.5],[1.3,0.45],[1.6,0.55],[1.9,0.6],[2.2,0.5],[2.5,0.45],[2.8,0.6],[3.05,0.9],[3.3,1.8],[3.5,4],[3.65,9],[3.7,11],[3.78,5],[3.9,2.5],[4.1,1.3],[4.4,0.7],[4.7,0.4],[5.0,0.22],[5.25,0.12],[5.4,0.09],[5.5,0.13],[5.7,0.35],[5.95,0.9],[6.2,1.8],[6.45,3.2],[6.5,3.5],[6.56,1.4],[6.63,0.9],[6.66,0.25],[6.69,0.9],[6.78,1.1],[6.84,0.7],[6.87,0.2],[6.9,0.8],[6.99,1.0],[7.05,0.6],[7.08,0.15],[7.11,0.9],[7.2,1.3],[7.26,0.8],[7.29,0.25],[7.32,1.0],[7.41,1.2],[7.47,0.7],[7.5,0.2],[7.53,0.9],[7.62,1.0],[7.7,1.8],[7.8,5],[7.9,9],[7.96,3],[8.04,1.1],[8.1,0.7],[8.12,0.2],[8.15,0.8],[8.23,1.0],[8.29,0.6],[8.32,0.15],[8.35,0.7],[8.43,0.9],[8.49,0.5],[8.52,0.12],[8.55,0.7],[8.63,0.9],[8.69,0.5],[8.72,0.2],[8.75,0.8],[8.83,1.0],[8.89,0.6],[8.92,0.15],[8.95,0.9],[9.03,1.1],[9.09,0.6],[9.12,0.2],[9.15,1.0],[9.23,1.3],[9.29,0.8],[9.32,0.25],[9.35,1.3],[9.43,1.7],[9.49,1.0],[9.53,0.3],[9.57,1.5],[9.64,3.5],[9.72,1.6],[9.8,6],[9.88,12],[9.95,4],[10.02,1.2],[10.08,1.6],[10.12,0.3],[10.16,1.1],[10.24,1.2],[10.3,0.6],[10.33,0.13],[10.36,0.8],[10.44,1.0],[10.5,0.5],[10.53,0.15],[10.56,0.8],[10.64,0.9],[10.7,0.5],[10.73,0.12],[10.76,0.7],[10.84,0.8],[10.9,0.45],[10.93,0.1],[10.96,0.7],[11.04,0.8],[11.1,0.4],[11.13,0.15],[11.16,0.7],[11.24,0.8],[11.3,0.4],[11.33,0.1],[11.36,0.6],[11.44,0.7],[11.5,0.35],[11.53,0.08],[11.56,0.6],[11.64,0.7],[11.7,0.35],[11.73,0.1],[11.76,0.5],[11.84,0.6],[11.9,0.3],[11.93,0.09],[11.96,0.5],[12.04,0.6],[12.1,0.3],[12.13,0.07],[12.16,0.5],[12.24,0.6],[12.3,0.3],[12.33,0.1],[12.36,0.5],[12.42,0.07],[12.46,0.5],[12.54,0.8],[12.62,0.3],[12.7,1.0],[12.8,1.6]];

var frf18 = [[0,0.05],[0.03,0.8],[0.07,0.3],[0.1,1.2],[0.14,0.45],[0.18,0.9],[0.24,0.6],[0.3,1.0],[0.4,0.8],[0.55,1.05],[0.75,0.9],[1.0,1.0],[1.3,0.85],[1.6,0.9],[1.9,1.0],[2.2,0.95],[2.5,1.2],[2.8,1.5],[3.1,2.2],[3.35,4],[3.55,8],[3.66,13],[3.72,12],[3.8,5],[3.95,2.2],[4.15,1.1],[4.4,0.8],[4.7,0.9],[5.0,1.1],[5.3,1.3],[5.6,1.35],[5.9,1.5],[6.2,2],[6.4,3.2],[6.5,4.5],[6.58,2.2],[6.66,1.1],[6.74,2.0],[6.82,0.9],[6.9,1.8],[6.98,0.8],[7.06,1.9],[7.14,1.0],[7.22,2.2],[7.3,1.2],[7.38,2.6],[7.46,1.2],[7.54,2.4],[7.62,1.5],[7.72,4],[7.82,10],[7.9,17],[7.96,10],[8.05,7],[8.2,6.2],[8.5,6.8],[8.8,8],[9.1,9.5],[9.3,10],[9.45,12],[9.6,16],[9.75,25],[9.88,40],[9.95,30],[10.1,20],[10.3,12],[10.5,8],[10.7,6],[10.9,5],[11.1,4.5],[11.3,5],[11.5,4.2],[11.7,4.6],[11.9,3.8],[12.1,4.2],[12.3,3.5],[12.5,3.8],[12.7,3.3],[12.8,3.6]];

var curves = [frf01, frf02, frf03, frf04, frf05, frf06, frf07, frf08, frf09,
    frf10, frf11, frf12, frf13, frf14, frf15, frf16, frf17, frf18];

var width = 896, height = 409;
var plotLeft = 72, plotTop = 8, plotBottom = 357;

var svg = d3.select('#chart').append('svg')
    .attr('width', width)
    .attr('height', height)
    .style('font-family', '"Liberation Serif", "Times New Roman", serif');

// 64.7 px per kHz, plot runs off the right edge of the picture
var x = d3.scaleLinear()
    .domain([0, 14])
    .range([plotLeft, plotLeft + 14 * 64.7]);

var y = d3.scaleLog()
    .domain([0.0023, 800])
    .range([plotBottom, plotTop]);

svg.append('defs').append('clipPath')
    .attr('id', 'plotClip')
    .append('rect')
    .attr('x', plotLeft)
    .attr('y', plotTop)
    .attr('width', width - plotLeft)
    .attr('height', plotBottom - plotTop);

// dotted grid + tick labels
svg.append('g')
    .attr('transform', 'translate(0,' + plotBottom + ')')
    .call(d3.axisBottom(x)
        .tickValues(xTicks)
        .tickSize(-(plotBottom - plotTop))
        .tickPadding(12)
        .tickFormat(d3.format('d')));

svg.append('g')
    .attr('transform', 'translate(' + plotLeft + ',0)')
    .call(d3.axisLeft(y)
        .tickValues(yTicks)
        .tickSize(-(width - plotLeft))
        .tickPadding(6)
        .tickFormat(function(d, i) { return yTickLabels[i]; }));

svg.selectAll('.domain').remove();

svg.selectAll('.tick line')
    .attr('stroke', '#222')
    .attr('stroke-width', 1)
    .attr('stroke-dasharray', '1.5,1.5');

svg.selectAll('.tick text')
    .attr('fill', '#000')
    .style('font-size', '18px')
    .style('font-family', '"Liberation Serif", serif');

// the curves
var line = d3.line()
    .x(function(d) { return x(d[0]); })
    .y(function(d) { return y(d[1]); });

svg.append('g')
    .attr('clip-path', 'url(#plotClip)')
    .selectAll('path')
    .data(curves)
    .enter()
    .append('path')
    .attr('d', line)
    .attr('fill', 'none')
    .attr('stroke', '#000')
    .attr('stroke-width', 1.15)
    .attr('stroke-linejoin', 'round');

// frame
svg.append('line')
    .attr('x1', plotLeft).attr('x2', width)
    .attr('y1', plotTop).attr('y2', plotTop)
    .attr('stroke', '#000').attr('stroke-width', 1.5);

svg.append('line')
    .attr('x1', plotLeft).attr('x2', width)
    .attr('y1', plotBottom).attr('y2', plotBottom)
    .attr('stroke', '#000').attr('stroke-width', 2);

svg.append('line')
    .attr('x1', plotLeft).attr('x2', plotLeft)
    .attr('y1', plotTop).attr('y2', plotBottom + 1)
    .attr('stroke', '#000').attr('stroke-width', 3.5);

// axis titles
svg.append('text')
    .attr('x', 475)
    .attr('y', 404)
    .attr('text-anchor', 'middle')
    .style('font-size', '22px')
    .text('Frequency, kHz');

svg.append('text')
    .attr('transform', 'translate(26,174) rotate(-90)')
    .attr('text-anchor', 'middle')
    .style('font-size', '22px')
    .text('Log magnitude, (m/s²)/N');
</script>
</body>
</html>
